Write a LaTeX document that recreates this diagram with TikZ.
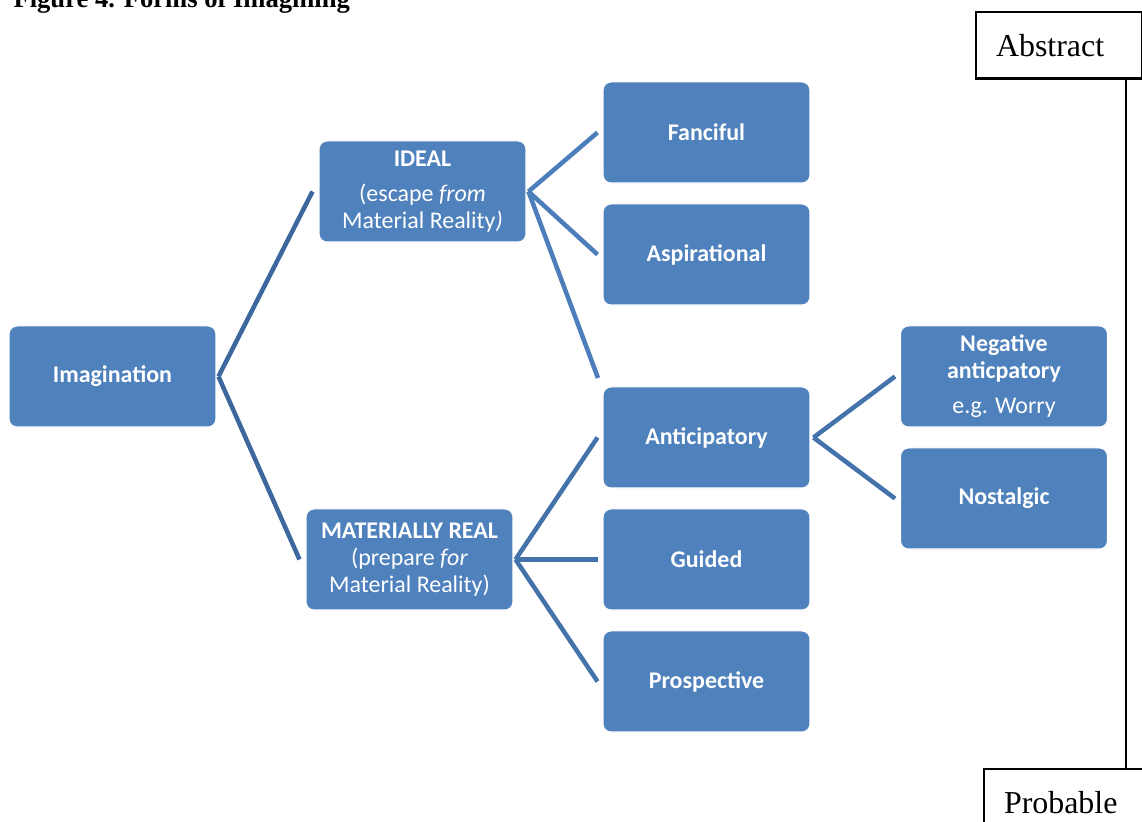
\documentclass[tikz,border=0pt]{standalone}
\usepackage{fontspec}
\setmainfont{Liberation Serif}
\newfontfamily\boxfont{Carlito}
\usepackage{xcolor}
\usepackage{tikz}
\usetikzlibrary{positioning, calc}
\definecolor{FormBlue}{RGB}{79, 129, 189}
\definecolor{FormLineDark}{RGB}{60, 104, 158}
\definecolor{FormLineMid}{RGB}{68, 114, 171}
\definecolor{FormLineLight}{RGB}{76, 126, 187}

\tikzset{
  formbox/.style={draw=white, line width=0.4pt, fill=FormBlue, rounded corners=3pt,
    minimum width=77.8pt, minimum height=38pt, align=center, text=white,
    font=\boxfont\fontsize{9}{10.2}\selectfont\bfseries, inner sep=2pt},
  branch/.style={line width=1.7pt},
  scalebox/.style={draw=black, line width=0.8pt, text width=47.5pt, align=left,
    inner xsep=7.5pt, inner ysep=0pt, minimum height=25pt, font=\fontsize{12}{14}\selectfont}
}

\begin{document}
\begin{tikzpicture}[x=0.376pt, y=-0.376pt]
  \useasboundingbox (0,0) rectangle (1142,822);
  % caption, cut at the top edge of the page
  \node[anchor=base west, inner sep=0pt, font=\fontsize{10}{12}\selectfont\bfseries]
    (caption) at (13,8) {Figure 4. Forms of Imagining};

  % tree of forms
  \node[formbox] (imag) at (112.5,376.5) {Imagination};
  \node[formbox] (ideal) at (422.5,191.5) {IDEAL\\[3pt]
    {\mdseries(escape \textit{from}}\\{\mdseries Material Reality\textit{)}}};
  \node[formbox] (matreal) at (409.5,559.5) {MATERIALLY REAL\\
    {\mdseries(prepare \textit{for}}\\{\mdseries Material Reality)}};
  \node[formbox] (fanc) at (706.5,132.5) {Fanciful};
  \node[formbox] (aspir) at (706.5,254.5) {Aspirational};
  \node[formbox] (antic) at (706.5,437.5) {Anticipatory};
  \node[formbox] (guided) at (706.5,559.5) {Guided};
  \node[formbox] (prosp) at (706.5,681.5) {Prospective};
  \node[formbox] (negant) at (1004,376.5) {Negative\\anticpatory\\[3pt]{\mdseries e.g. Worry}};
  \node[formbox] (nostal) at (1004,498.5) {Nostalgic};

  \coordinate (idealend) at (598,378);

  \draw[branch, FormLineDark] ($(imag.east)+(2,0)$) -- ($(ideal.west)+(-6,0)$);
  \draw[branch, FormLineDark] ($(imag.east)+(2,0)$) -- ($(matreal.west)+(-6,0)$);
  \foreach \kid in {fanc, aspir}
    \draw[branch, FormLineLight] ($(ideal.east)+(2,0)$) -- ($(\kid.west)+(-5,0)$);
  \draw[branch, FormLineLight] ($(ideal.east)+(2,0)$) -- (idealend);
  \foreach \kid in {antic, guided, prosp}
    \draw[branch, FormLineMid] ($(matreal.east)+(2,0)$) -- ($(\kid.west)+(-5,0)$);
  \foreach \kid in {negant, nostal}
    \draw[branch, FormLineMid] ($(antic.east)+(3,0)$) -- ($(\kid.west)+(-5,0)$);

  % abstract / probable scale
  \node[scalebox, anchor=north west] (abstract) at (975,11) {Abstract};
  \node[scalebox, anchor=north west] (probable) at (983,768) {Probable};
  \coordinate (scaletop) at ($(abstract.south east)+(-17,0)$);
  \draw[line width=0.8pt] (scaletop) -- (scaletop |- probable.north);
\end{tikzpicture}
\end{document}
